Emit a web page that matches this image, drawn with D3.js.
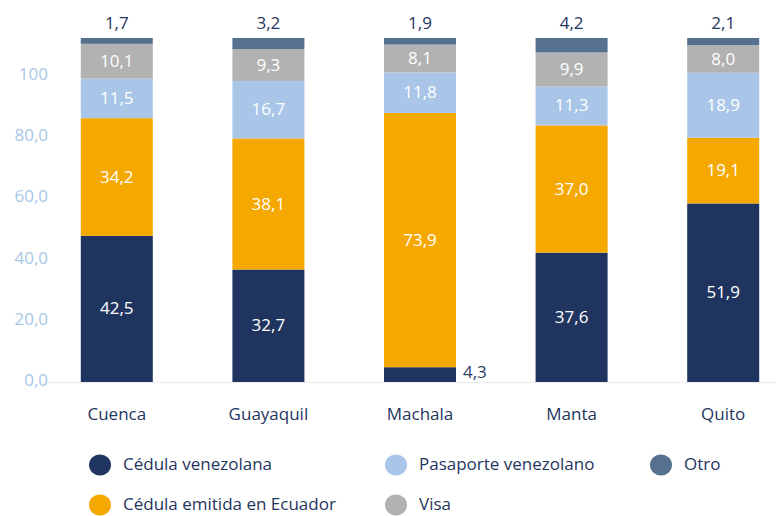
<!DOCTYPE html>
<html><head><meta charset="utf-8">
<script src="https://cdn.jsdelivr.net/npm/d3@7"></script>
<style>body{margin:0;background:#fff}svg{display:block}text{font-family:"Open Sans",sans-serif}</style>
</head><body><div id="chart"></div>
<script>
const categories = ["Cuenca","Guayaquil","Machala","Manta","Quito"];
const seriesNames = ["Cédula venezolana","Cédula emitida en Ecuador","Pasaporte venezolano","Visa","Otro"];
const cedulaVenezolana = [42.5, 32.7, 4.3, 37.6, 51.9];
const cedulaEcuador = [34.2, 38.1, 73.9, 37.0, 19.1];
const pasaporte = [11.5, 16.7, 11.8, 11.3, 18.9];
const visa = [10.1, 9.3, 8.1, 9.9, 8.0];
const otro = [1.7, 3.2, 1.9, 4.2, 2.1];
const colors = ["#1f3560","#f5a800","#a9c6e8","#b2b2b2","#56718f"];
const tickValues = [0,20,40,60,80,100];
const tickLabels = ["0,0","20,0","40,0","60,0","80,0","100"];

const W = 776, H = 516;
const FS = 17;
const svg = d3.select("#chart").append("svg").attr("width", W).attr("height", H);
const seriesVals = [cedulaVenezolana, cedulaEcuador, pasaporte, visa, otro];
const rows = categories.map((c,i)=>{const r={cat:c}; seriesNames.forEach((s,j)=>r[s]=seriesVals[j][i]); return r;});
const stack = d3.stack().keys(seriesNames)(rows);

const x = d3.scaleBand().domain(categories).range([41, 799]).paddingInner(0.525).paddingOuter(0.2625);
const y = d3.scaleLinear().domain([0,100]).range([382, 38]);
// axis labels as drawn in the original (compressed relative to bars)
const yAxisScale = d3.scaleLinear().domain([0,100]).range([y(0)-2, y(89.5)]);

const fmt = v => d3.format(".1f")(v).replace(".", ",");

// baseline
svg.append("line").attr("x1",42).attr("x2",776).attr("y1",382.5).attr("y2",382.5)
  .attr("stroke","#eeeeee").attr("stroke-width",1.5);

// y axis labels
const yAxis = d3.axisLeft(yAxisScale).tickValues(tickValues).tickFormat((d,i)=>tickLabels[i]).tickSize(0).tickPadding(0);
const gy = svg.append("g").attr("transform","translate(48,0)").call(yAxis);
gy.select(".domain").remove();
gy.selectAll("text").attr("fill","#a9c6e8").attr("font-size",FS).attr("font-family","'Open Sans',sans-serif");

// bars
stack.forEach((layer,j)=>{
  const g = svg.append("g");
  g.selectAll("rect").data(layer).join("rect")
    .attr("x", d=>x(d.data.cat)).attr("width", x.bandwidth())
    .attr("y", d=>y(d[1])).attr("height", d=>y(d[0])-y(d[1]))
    .attr("fill", colors[j]);
  g.selectAll("text").data(layer).join("text")
    .attr("font-size",FS)
    .each(function(d){
      const t = d3.select(this);
      const v = d[1]-d[0];
      const cx = x(d.data.cat)+x.bandwidth()/2;
      if (j===4) {
        t.attr("x",cx).attr("y",y(d[1])-14).attr("dominant-baseline","middle").attr("text-anchor","middle").attr("fill","#1f3560").attr("font-weight",500);
      } else if (v < 6) {
        t.attr("x",x(d.data.cat)+x.bandwidth()+7).attr("y",(y(d[0])+y(d[1]))/2-1).attr("dominant-baseline","middle").attr("text-anchor","start").attr("fill","#2c4168");
      } else {
        t.attr("x",cx).attr("y",(y(d[0])+y(d[1]))/2+1).attr("dominant-baseline","middle").attr("text-anchor","middle").attr("fill","#ffffff");
      }
      t.text(fmt(v));
    });
});

// x axis labels
const xAxis = d3.axisBottom(x).tickSize(0).tickPadding(0);
const gx = svg.append("g").attr("transform","translate(0,420)").call(xAxis);
gx.select(".domain").remove();
gx.selectAll("text").attr("fill","#1f3560").attr("font-size",FS).attr("dy",0).attr("font-family","'Open Sans',sans-serif");

// legend
const legendPos = [[100,465],[100,505],[396,465],[396,505],[661,465]];
const lg = svg.append("g");
seriesNames.forEach((s,j)=>{
  const [lx,ly] = legendPos[j];
  lg.append("ellipse").attr("cx",lx).attr("cy",ly).attr("rx",11).attr("ry",10.5).attr("fill",colors[j]);
  lg.append("text").attr("x",lx+23).attr("y",ly).attr("dominant-baseline","middle")
    .attr("font-size",FS).attr("fill","#1f3560").text(s);
});
</script></body></html>
